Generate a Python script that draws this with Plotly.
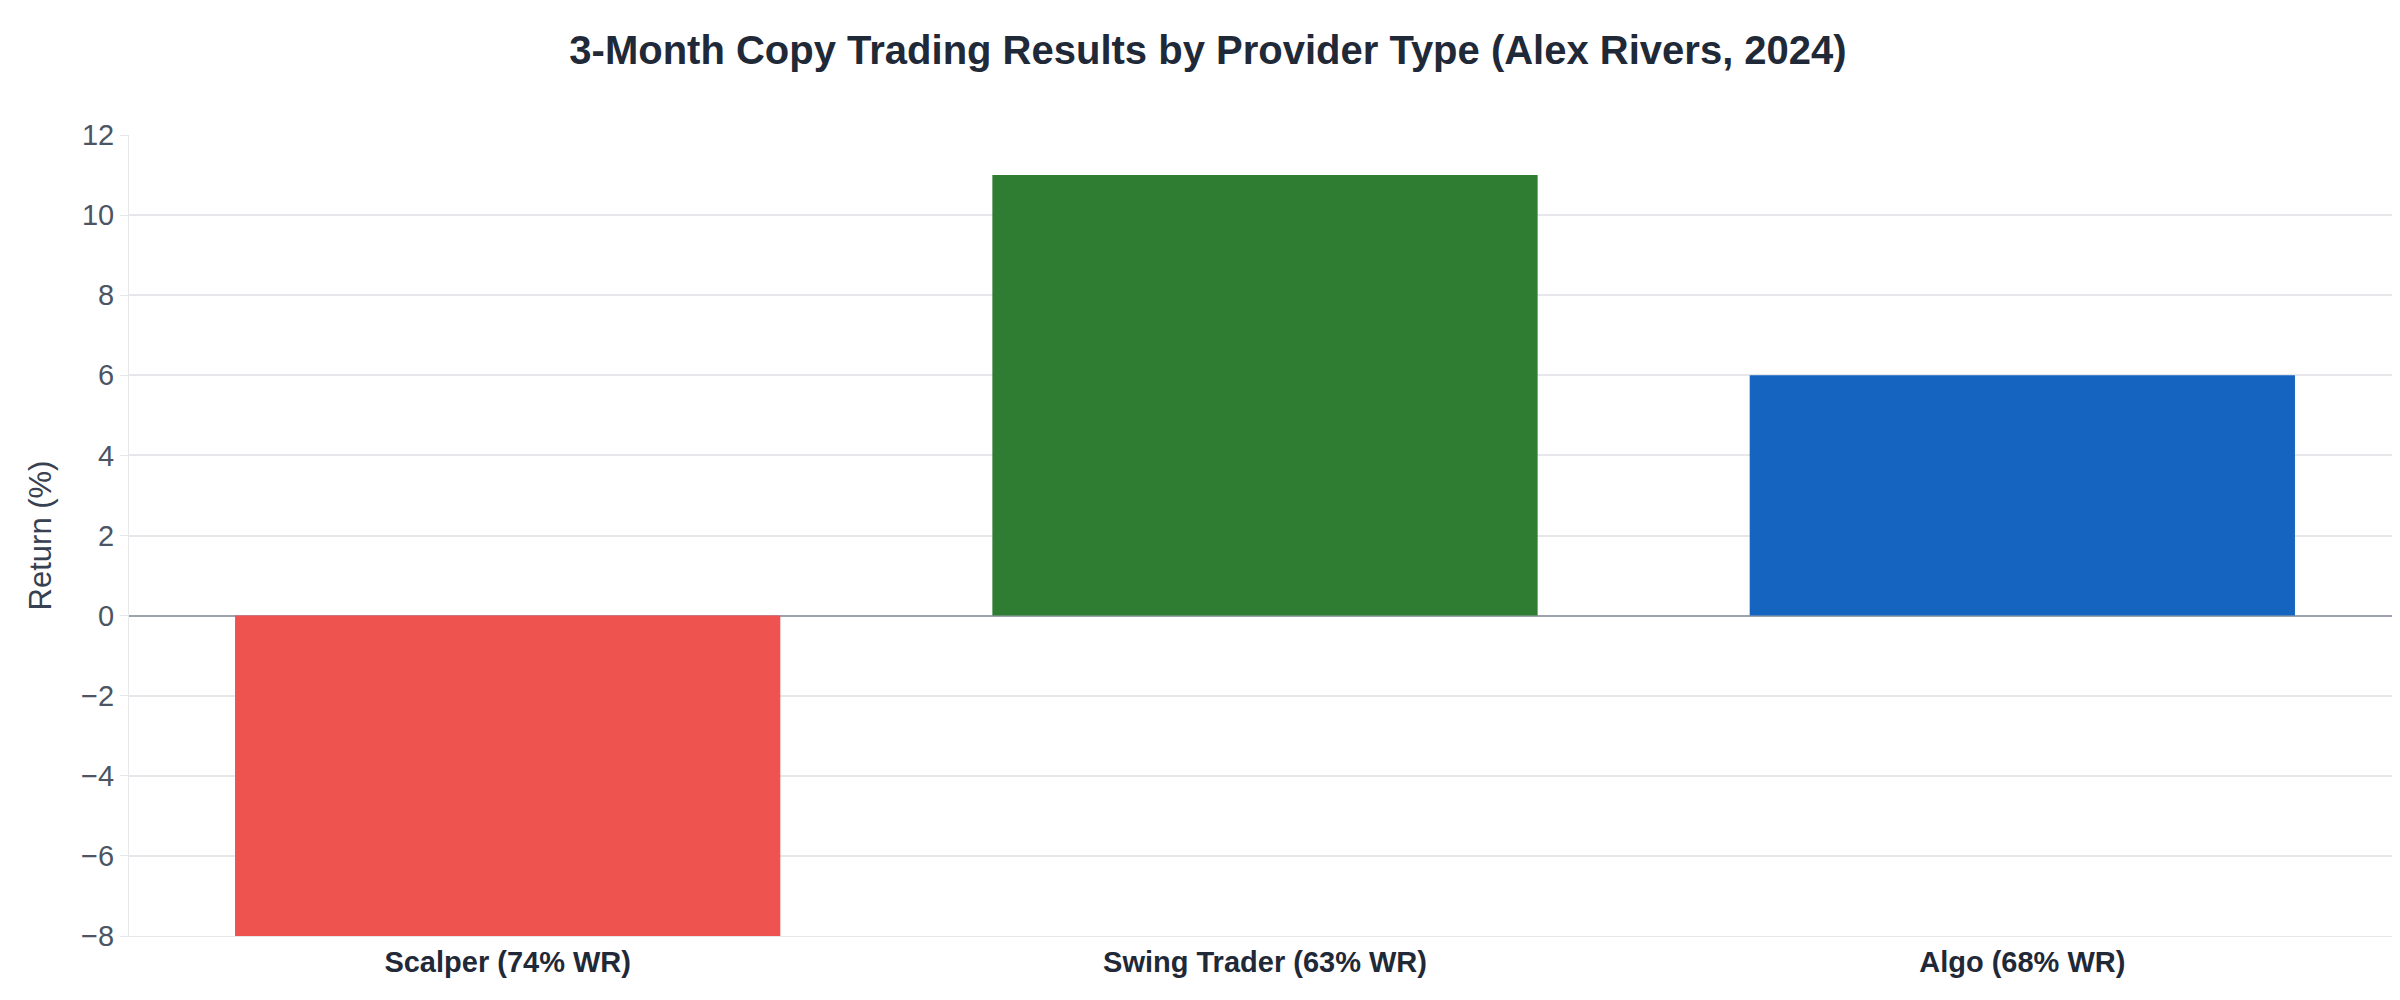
import plotly.graph_objects as go

providers = ["Scalper (74% WR)", "Swing Trader (63% WR)", "Algo (68% WR)"]
returns = [-8, 11, 6]
colors = ["#EF5350", "#2E7D32", "#1565C0"]

fig = go.Figure(go.Bar(x=providers, y=returns, marker_color=colors, marker_line_width=0))

fig.update_layout(
    width=2400, height=1000,
    paper_bgcolor="white", plot_bgcolor="white",
    font=dict(family="Liberation Sans, Arial, sans-serif", color="#374151"),
    title=dict(text="<b>3-Month Copy Trading Results by Provider Type (Alex Rivers, 2024)</b>",
               x=0.5, xanchor="center", y=0.958, yanchor="middle",
               font=dict(size=40, color="#1f2937")),
    margin=dict(l=121, r=7, t=127, b=72),
    bargap=0.28,
    showlegend=False,
)
fig.update_xaxes(tickfont=dict(size=29, color="#1f2937", weight="bold"),
                 showgrid=False, ticks="", showline=True, linecolor="#e5e7eb")
fig.update_yaxes(range=[-8, 12], dtick=2, tickfont=dict(size=29, color="#4b5563"),
                 title=dict(text="Return (%)", font=dict(size=31, color="#374151"), standoff=20),
                 gridcolor="#e5e7eb", gridwidth=1.5, zeroline=True, zerolinecolor="#9ca3af",
                 zerolinewidth=1.5, showline=True, linecolor="#e5e7eb", ticks="outside",
                 ticklen=8, tickcolor="#e5e7eb")

fig.write_html("out.html")
